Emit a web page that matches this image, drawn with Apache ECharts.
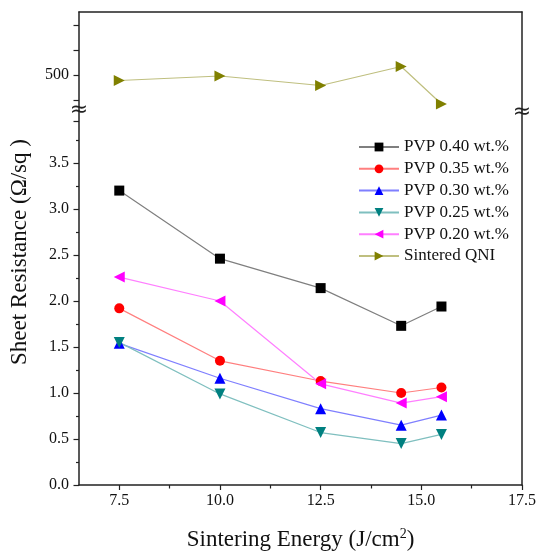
<!DOCTYPE html>
<html><head><meta charset="utf-8">
<script src="https://cdn.jsdelivr.net/npm/echarts@6/dist/echarts.min.js"></script>
<style>html,body{margin:0;padding:0;background:#fff}#c{width:540px;height:551px}</style>
</head><body><div id="c"></div>
<script>
const energy = [7.5, 10.0, 12.5, 14.5, 15.5];
const pvp040 = [3.20, 2.46, 2.14, 1.73, 1.94];
const pvp035 = [1.92, 1.35, 1.13, 1.00, 1.06];
const pvp030 = [1.54, 1.16, 0.83, 0.65, 0.76];
const pvp025 = [1.55, 0.99, 0.57, 0.45, 0.55];
const pvp020 = [2.26, 2.00, 1.10, 0.89, 0.96];
const qni = [489, 498, 479, 517, 442];
const seriesNames = ['PVP 0.40 wt.%', 'PVP 0.35 wt.%', 'PVP 0.30 wt.%', 'PVP 0.25 wt.%', 'PVP 0.20 wt.%', 'Sintered QNI'];
const xTicks = [7.5, 10.0, 12.5, 15.0, 17.5];
const xMinorTicks = [8.75, 11.25, 13.75, 16.25];
const yTicks = [0, 0.5, 1.0, 1.5, 2.0, 2.5, 3.0, 3.5, 3.95];
const yLabels = [0, 0.5, 1.0, 1.5, 2.0, 2.5, 3.0, 3.5];
const yMinorTicks = [0.25, 0.75, 1.25, 1.75, 2.25, 2.75, 3.25, 3.75];
const yTopTicks = [450, 500, 550, 600];
const yTopLabels = [500];

const FONT = 'Liberation Serif';
const AX = '#222';
const pairs = vals => energy.map((e, i) => [e, vals[i]]);

const chart = echarts.init(document.getElementById('c'), null, {renderer: 'canvas'});

const hidden = {show: false};
const lineOnly = {
  axisLine: {show: true, onZero: false, lineStyle: {color: AX, width: 1.5}},
  axisTick: hidden, axisLabel: hidden, splitLine: hidden
};

function mkSeries(name, vals, xi, yi, lineColor, symColor, symbol, rot, size) {
  return {
    name, type: 'line', xAxisIndex: xi, yAxisIndex: yi, data: pairs(vals),
    symbol, symbolRotate: rot, symbolSize: size,
    lineStyle: {color: lineColor, width: 1.2},
    itemStyle: {color: symColor},
    emphasis: {disabled: true}, animation: false, z: 3
  };
}

const option = {
  backgroundColor: '#fff',
  animation: false,
  grid: [
    {left: 79, right: 18, top: 12, height: 99, containLabel: false, outerBoundsMode: 'none'},
    {left: 79, right: 18, top: 111, bottom: 66, containLabel: false, outerBoundsMode: 'none'}
  ],
  xAxis: [
    Object.assign({type: 'value', gridIndex: 0, min: 6.5, max: 17.5, position: 'top'}, lineOnly),
    {type: 'value', gridIndex: 1, min: 6.5, max: 17.5, position: 'bottom',
      axisLine: {show: true, onZero: false, lineStyle: {color: AX, width: 1.5}},
      axisTick: {show: true, inside: false, length: 5, customValues: xTicks, lineStyle: {color: AX, width: 1.2}},
      axisLabel: {show: true, customValues: xTicks, margin: 8, fontFamily: FONT, fontSize: 16, color: '#111',
        formatter: v => v.toFixed(1)},
      splitLine: hidden,
      name: '{a|Sintering Energy (J/cm}{s|2}{a|)}', nameLocation: 'middle', nameGap: 42,
      nameTextStyle: {rich: {
        a: {fontFamily: FONT, fontSize: 23, color: '#111'},
        s: {fontFamily: FONT, fontSize: 14, color: '#111', verticalAlign: 'bottom', padding: [0, 0, 11, 0]}
      }}
    },
    {type: 'value', gridIndex: 1, min: 6.5, max: 17.5, position: 'bottom',
      axisLine: hidden, axisLabel: hidden, splitLine: hidden,
      axisTick: {show: true, length: 3.5, customValues: xMinorTicks, lineStyle: {color: AX, width: 1.2}}}
  ],
  yAxis: [
    {type: 'value', gridIndex: 0, min: 428, max: 626, position: 'left',
      axisLine: {show: true, onZero: false, lineStyle: {color: AX, width: 1.5}},
      axisTick: {show: true, length: 5.5, customValues: yTopTicks, lineStyle: {color: AX, width: 1.2}},
      axisLabel: {show: true, customValues: yTopLabels, margin: 10, fontFamily: FONT, fontSize: 16, color: '#111'},
      splitLine: hidden},
    Object.assign({type: 'value', gridIndex: 0, min: 428, max: 626, position: 'right'}, lineOnly),
    {type: 'value', gridIndex: 1, min: 0, max: 4.065, position: 'left',
      axisLine: {show: true, onZero: false, lineStyle: {color: AX, width: 1.5}},
      axisTick: {show: true, length: 5.5, customValues: yTicks, lineStyle: {color: AX, width: 1.2}},
      axisLabel: {show: true, customValues: yLabels, margin: 10, fontFamily: FONT, fontSize: 16, color: '#111',
        formatter: v => v.toFixed(1)},
      splitLine: hidden},
    {type: 'value', gridIndex: 1, min: 0, max: 4.065, position: 'left',
      axisLine: hidden, axisLabel: hidden, splitLine: hidden,
      axisTick: {show: true, length: 3, customValues: yMinorTicks, lineStyle: {color: AX, width: 1.2}}},
    Object.assign({type: 'value', gridIndex: 1, min: 0, max: 4.065, position: 'right'}, lineOnly)
  ],
  legend: {
    orient: 'vertical', left: 358, top: 138, padding: 0,
    itemWidth: 40, itemHeight: 11, itemGap: 3.8,
    textStyle: {fontFamily: FONT, fontSize: 17, color: '#111', lineHeight: 18},
    data: seriesNames
  },
  series: [
    mkSeries(seriesNames[0], pvp040, 1, 2, '#7f7f7f', '#000000', 'rect', 0, 10),
    mkSeries(seriesNames[1], pvp035, 1, 2, '#ff7f7f', '#ff0000', 'circle', 0, 10),
    mkSeries(seriesNames[2], pvp030, 1, 2, '#7f7fff', '#0000ff', 'triangle', 0, 11),
    mkSeries(seriesNames[3], pvp025, 1, 2, '#7fbfbf', '#008080', 'triangle', 180, 11),
    mkSeries(seriesNames[4], pvp020, 1, 2, '#ff7fff', '#ff00ff', 'triangle', 90, 11),
    mkSeries(seriesNames[5], qni, 0, 0, '#bfbf7f', '#808000', 'triangle', -90, 11)
  ],
  graphic: [
    {type: 'text', x: 20, y: 252, rotation: Math.PI / 2,
      style: {text: 'Sheet Resistance (Ω/sq )', fontFamily: FONT, fontSize: 23, fill: '#111',
        align: 'center', verticalAlign: 'middle'}, z: 10},
    {type: 'text', x: 79, y: 110,
      style: {text: '≈', fontFamily: 'DejaVu Sans', fontSize: 22, fill: '#222', align: 'center', verticalAlign: 'middle'}, z: 10},
    {type: 'text', x: 522, y: 112,
      style: {text: '≈', fontFamily: 'DejaVu Sans', fontSize: 22, fill: '#222', align: 'center', verticalAlign: 'middle'}, z: 10}
  ]
};
chart.setOption(option);
</script></body></html>
